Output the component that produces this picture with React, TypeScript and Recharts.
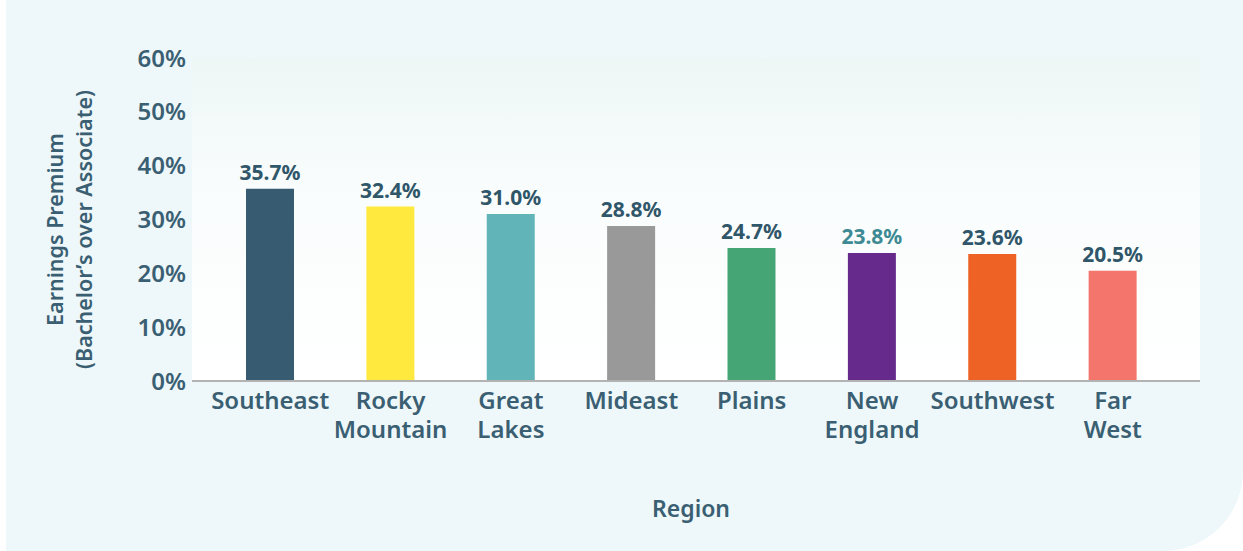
import React from 'react';
import { BarChart, Bar, XAxis, YAxis, CartesianGrid, Cell, LabelList, Label } from 'recharts';

const categories = ['Southeast', 'Rocky Mountain', 'Great Lakes', 'Mideast', 'Plains', 'New England', 'Southwest', 'Far West'];
const values = [35.7, 32.4, 31.0, 28.8, 24.7, 23.8, 23.6, 20.5];
const barColors = ['#375C71', '#FFE93F', '#61B4B8', '#999999', '#46A574', '#652A8C', '#EE6325', '#F4756B'];
const labelColors = ['#2F5669', '#2F5669', '#2F5669', '#2F5669', '#2F5669', '#3E8A94', '#2F5669', '#2F5669'];
const yTicks = [0, 10, 20, 30, 40, 50, 60];

const data = categories.map((name, i) => ({ name, value: values[i] }));

const FONT = '"Noto Sans", sans-serif';
const TEXT = '#3A5F73';

const XTick = (props: any) => {
  const { x, y, payload } = props;
  const lines = String(payload.value).split(' ');
  return (
    <g>
      {lines.map((l, i) => (
        <text key={i} x={x} y={y + 28 + i * 29} textAnchor="middle" fill={TEXT} fontFamily={FONT} fontWeight={600} fontSize={24}>
          {l}
        </text>
      ))}
    </g>
  );
};

const ValueLabel = (props: any) => {
  const { x, y, width, value, index } = props;
  return (
    <text x={x + width / 2} y={y - 9} textAnchor="middle" fill={labelColors[index]} fontFamily={FONT} fontWeight={700} fontSize={21}>
      {Number(value).toFixed(1)}%
    </text>
  );
};

const YTitle = (props: any) => {
  const vb = props.viewBox || { x: 0, y: 58, width: 186, height: 323 };
  const cx = vb.x + 57;
  const cy = vb.y + vb.height / 2 + 10;
  return (
    <text transform={`rotate(-90, ${cx}, ${cy})`} x={cx} y={cy} textAnchor="middle" fill={TEXT} fontFamily={FONT} fontWeight={600} fontSize={21.5}>
      <tspan x={cx} y={cy}>Earnings Premium</tspan>
      <tspan x={cx} y={cy + 29}>(Bachelor’s over Associate)</tspan>
    </text>
  );
};

const XTitle = (props: any) => {
  const vb = props.viewBox || { x: 186, y: 381, width: 1008, height: 170 };
  return (
    <text x={vb.x + vb.width / 2 - 5} y={vb.y + 136} textAnchor="middle" fill={TEXT} fontFamily={FONT} fontWeight={600} fontSize={23}>
      Region
    </text>
  );
};

export default function App() {
  return (
    <div style={{ position: 'absolute', left: 6, top: 0, width: 1237, height: 551, background: '#EEF7F9', borderBottomRightRadius: 80 }}>
      <BarChart width={1237} height={551} data={data} margin={{ top: 58, right: 43, bottom: 0, left: 0 }}>
        <defs>
          <linearGradient id="plotGrad" x1="0" y1="0" x2="0" y2="1">
            <stop offset="0%" stopColor="#EDF7F5" />
            <stop offset="45%" stopColor="#FAFDFD" />
            <stop offset="100%" stopColor="#FFFFFF" />
          </linearGradient>
        </defs>
        <CartesianGrid horizontal={false} vertical={false} fill="url(#plotGrad)" stroke="none" />
        <XAxis
          dataKey="name"
          type="category"
          height={170}
          padding={{ left: 18, right: 27 }}
          tickLine={false}
          tickSize={0}
          tickMargin={0}
          axisLine={{ stroke: '#B3B3B3', strokeWidth: 2 }}
          tick={<XTick />}
          interval={0}
        >
          <Label content={<XTitle />} />
        </XAxis>
        <YAxis
          type="number"
          domain={[0, 60]}
          ticks={yTicks}
          width={186}
          axisLine={false}
          tickLine={false}
          tickSize={0}
          tickMargin={6}
          tickFormatter={(v: number) => `${v}%`}
          tick={{ fill: TEXT, fontFamily: FONT, fontWeight: 600, fontSize: 24 }}
        >
          <Label content={<YTitle />} />
        </YAxis>
        <Bar dataKey="value" barSize={48} isAnimationActive={false}>
          {data.map((d, i) => (
            <Cell key={d.name} fill={barColors[i]} />
          ))}
          <LabelList dataKey="value" content={<ValueLabel />} />
        </Bar>
      </BarChart>
    </div>
  );
}
